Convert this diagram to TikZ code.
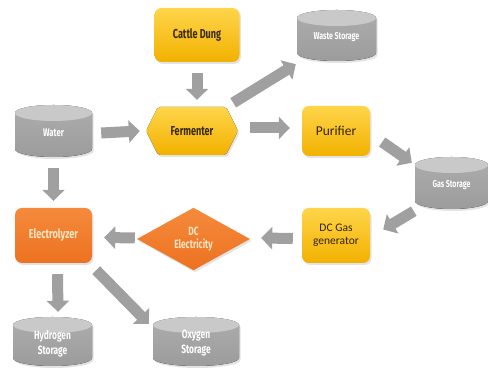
\documentclass[tikz,border=0pt]{standalone}
\usepackage{fontspec}
\usetikzlibrary{shapes.geometric,arrows.meta,shadows,calc}
\newfontfamily\cond[FakeStretch=0.7]{Fira Sans}
\newfontfamily\cali{Carlito}
\definecolor{ylwT}{HTML}{FFD54A}
\definecolor{ylwB}{HTML}{F2B100}
\definecolor{orgT}{HTML}{F58A3C}
\definecolor{orgB}{HTML}{EC7220}
\definecolor{gryT}{HTML}{C9C9C9}
\definecolor{gryS}{HTML}{ADADAD}
\definecolor{gryB}{HTML}{9C9C9C}
\definecolor{brn}{HTML}{3A2A0E}
\definecolor{peach}{HTML}{FFE6C4}
\definecolor{arrg}{HTML}{A0A0A0}
\tikzset{
  softshadow/.style={drop shadow={opacity=0.22, shadow xshift=1.5pt, shadow yshift=-2pt}},
  ybox/.style={rounded corners=7pt, top color=ylwT, bottom color=ylwB, softshadow,
    text=brn, font=\cond\bfseries\fontsize{13}{14}\selectfont, align=center, inner sep=0pt},
  calitext/.style={font=\cali\fontsize{11.5}{12.5}\selectfont, text=brn!85!black},
  obox/.style={rounded corners=7pt, top color=orgT, bottom color=orgB, softshadow,
    text=peach, font=\cond\bfseries\fontsize{13}{14}\selectfont, align=center, inner sep=0pt},
  cyltext/.style={text=white, font=\cond\bfseries\fontsize{11}{13}\selectfont, align=center, inner sep=0pt},
  cylbody/.style={top color=gryS, bottom color=gryB, softshadow},
  cyltop/.style={fill=gryT},
  hexfill/.style={top color=ylwT, bottom color=ylwB, softshadow, rounded corners=2pt},
  arr/.style={draw=arrg, line width=11pt, -{Triangle[length=11pt,width=22pt]}},
}
\newcommand\cylnode[7][]{%
  \pgfmathsetmacro\crx{#5/2}%
  \fill[cylbody] (#3-\crx, #4+#6/2-8) -- (#3-\crx, #4-#6/2+8)
     arc[start angle=180, end angle=360, x radius=\crx, y radius=8]
     -- (#3+\crx, #4+#6/2-8)
     arc[start angle=0, end angle=180, x radius=\crx, y radius=8] -- cycle;
  \fill[cyltop] (#3, #4+#6/2-8) ellipse[x radius=\crx, y radius=8];
  \node[cyltext, minimum width=#5pt, minimum height=#6pt, #1] (#2) at (#3,#4-2) {#7};
}
\begin{document}
\begin{tikzpicture}[x=1pt, y=1pt]
\useasboundingbox[fill=white] (0,0) rectangle (488,371);

% yellow boxes
\node[ybox, minimum width=85pt, minimum height=54pt] (cd) at (197,336) {Cattle Dung};
\node[ybox, calitext, font=\cali\fontsize{13.5}{14}\selectfont, minimum width=68pt, minimum height=50pt] (p) at (336,240) {Purifier};
\node[ybox, calitext, minimum width=68pt, minimum height=55pt] (dcg) at (336,135.5) {DC Gas\\generator};

% fermenter hexagon
\fill[hexfill] (146,240) -- (158,264) -- (226,264) -- (238,240) -- (226,216) -- (158,216) -- cycle;
\node[text=brn, font=\cond\bfseries\fontsize{13}{14}\selectfont, minimum width=92pt, minimum height=48pt, inner sep=0pt] (f) at (192,240) {Fermenter};

% orange
\node[obox, minimum width=77pt, minimum height=55pt] (el) at (53.5,135.5) {Electrolyzer};
\node[diamond, top color=orgT, bottom color=orgB, softshadow, text=peach,
  font=\cond\bfseries\fontsize{12}{13}\selectfont, align=center, inner sep=0pt,
  minimum width=113pt, minimum height=55pt] (dce) at (193.5,132) {DC\\Electricity};

% cylinders
\cylnode[font=\cond\bfseries\fontsize{10}{11}\selectfont]{ws}{336.5}{335.5}{79}{51}{Waste Storage}
\cylnode[font=\cond\bfseries\fontsize{10}{11}\selectfont]{gs}{451.5}{188}{73}{52}{Gas Storage}
\cylnode{w}{53.5}{240}{77}{52}{Water}
\cylnode[font=\cond\bfseries\fontsize{12}{15}\selectfont]{h}{52.5}{29.5}{79}{49}{Hydrogen\\Storage}
\cylnode[font=\cond\bfseries\fontsize{12}{15}\selectfont]{o}{196}{29.5}{86}{49}{Oxygen\\Storage}

% arrows
\draw[arr] ($(cd.south)+(0,-11)$) -- ($(cd.south |- f.north)+(0,7)$);
\draw[arr] ($(f.north east)+(-5,4)$) -- ($(ws.south west)+(-1,-1)$);
\draw[arr] ($(w.east)+(9,0)$) -- ($(f.west)+(-6,0)$);
\draw[arr] ($(f.east)+(12,3)$) -- ($(p.west)+(-12,3)$);
\draw[arr] ($(p.east)+(12,-11)$) -- ($(gs.north west)+(-3,-4)$);
\draw[arr] ($(gs.south west)+(-1,0)$) -- ($(dcg.east)+(13,6)$);
\draw[arr] ($(dcg.west)+(-9,-3)$) -- ($(dce.east)+(11,1)$);
\draw[arr] ($(dce.west)+(-2,1)$) -- ($(el.east)+(12,-2)$);
\draw[arr] ($(w.south)+(0,-9)$) -- ($(el.north)+(0,7)$);
\draw[arr] ($(el.south)+(4,-11)$) -- ($(h.north)+(5.5,7)$);
\draw[arr] ($(el.south east)+(4,-7)$) -- ($(o.north west)+(-4,-5)$);
\end{tikzpicture}
\end{document}
